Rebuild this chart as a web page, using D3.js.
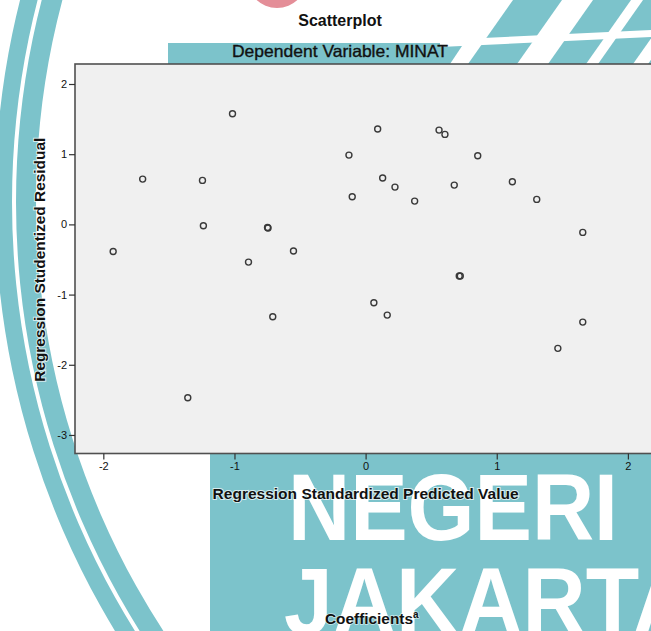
<!DOCTYPE html>
<html>
<head>
<meta charset="utf-8">
<script src="https://cdn.jsdelivr.net/npm/d3@7/dist/d3.min.js"></script>
<style>
  html, body { margin: 0; padding: 0; background: #ffffff; }
  svg { display: block; font-family: "Liberation Sans", Arial, sans-serif; }
</style>
</head>
<body>
<svg id="chart" width="651" height="631"></svg>
<script>
// ---------------- data ----------------
const predictedValue = [-1.015, -1.700, -1.244, -1.237, -1.925, -0.748, -0.744, -0.893, -0.550, -0.708,
                        -1.356, -0.127, -0.102, 0.092, 0.130, 0.224, 0.374, 0.560, 0.605, 0.676,
                        0.855, 1.119, 1.305, 1.656, 0.714, 0.722, 0.063, 0.165, 1.656, 1.466];
const studentizedResidual = [1.576, 0.645, 0.627, -0.020, -0.387, -0.045, -0.052, -0.537, -0.380, -1.316,
                             -2.470, 0.987, 0.393, 1.358, 0.660, 0.531, 0.332, 1.343, 1.282, 0.560,
                             0.977, 0.607, 0.356, -0.114, -0.736, -0.736, -1.117, -1.292, -1.392, -1.766];
const xTicks = [-2, -1, 0, 1, 2];
const yTicks = [2, 1, 0, -1, -2, -3];
const xExtent = [-2.216, 2.222];
const yExtent = [-3.264, 2.285];
const chartTitle = "Scatterplot";
const chartSubtitle = "Dependent Variable: MINAT";
const xTitle = "Regression Standardized Predicted Value";
const yTitle = "Regression Studentized Residual";
const footerTitle = "Coefficients";
const footerSup = "a";
const watermarkWords = ["NEGERI", "JAKARTA"];

// ---------------- layout ----------------
const svg = d3.select("#chart");
const W = 651, H = 631;
const plot = { left: 75, right: 657, top: 64, bottom: 453.5 };
const teal = "#7cc3cb";

svg.append("rect").attr("width", W).attr("height", H).attr("fill", "#ffffff");

// ---------------- watermark (background decoration) ----------------
const wm = svg.append("g").attr("class", "watermark");
const ringArc = d3.arc().startAngle(Math.PI * 0.98).endAngle(Math.PI * 2.02);
[[810, 827], [786, 806]].forEach(([ri, ro]) => {
  wm.append("path")
    .attr("transform", "translate(822,202)")
    .attr("d", ringArc({ innerRadius: ri, outerRadius: ro }))
    .attr("fill", teal);
});
// teal block at the bottom
wm.append("rect").attr("x", 210).attr("y", 440).attr("width", W - 210).attr("height", H - 440).attr("fill", teal);
// pink circle top
wm.append("circle").attr("cx", 277).attr("cy", -22).attr("r", 30).attr("fill", "#e48e98");
// teal bar behind subtitle
wm.append("path").attr("d", "M168,43 L464,43 L450,64 L168,64 Z").attr("fill", teal);
// top-right slanted bands
const clip = svg.append("defs").append("clipPath").attr("id", "trclip");
clip.append("rect").attr("x", 440).attr("y", 0).attr("width", 211).attr("height", 64);
const tr = wm.append("g").attr("clip-path", "url(#trclip)");
[[468, 517], [548, 586], [598, 633], [648, 690]].forEach(([a, b]) => {
  tr.append("path")
    .attr("d", `M${a},64 L${b},64 L${b + 45},0 L${a + 45},0 Z`)
    .attr("fill", teal);
});
tr.append("path").attr("d", "M440,40 L651,30 L651,37 L440,47 Z").attr("fill", "#ffffff");

// big white watermark words
wm.append("text").attr("x", 288).attr("y", 540)
  .attr("font-size", 95).attr("font-weight", "bold").attr("fill", "#ffffff")
  .attr("textLength", 330).attr("lengthAdjust", "spacingAndGlyphs")
  .text(watermarkWords[0]);
wm.append("text").attr("x", 284).attr("y", 634)
  .attr("font-size", 95).attr("font-weight", "bold").attr("fill", "#ffffff")
  .attr("textLength", 412).attr("lengthAdjust", "spacingAndGlyphs")
  .text(watermarkWords[1]);

// ---------------- titles ----------------
svg.append("text").attr("x", 340).attr("y", 25.5).attr("text-anchor", "middle")
  .attr("font-size", 16).attr("font-weight", "bold").attr("fill", "#111")
  .text(chartTitle);
svg.append("text").attr("x", 340).attr("y", 57).attr("text-anchor", "middle")
  .attr("font-size", 16.5).attr("fill", "#111").attr("stroke", "#111").attr("stroke-width", 0.35)
  .attr("textLength", 216).attr("lengthAdjust", "spacingAndGlyphs")
  .text(chartSubtitle);

// ---------------- scales ----------------
const x = d3.scaleLinear().domain(xExtent).range([plot.left, plot.right]);
const y = d3.scaleLinear().domain(yExtent).range([plot.bottom, plot.top]);

// plot area
svg.append("rect")
  .attr("x", x(xExtent[0])).attr("y", y(yExtent[1]))
  .attr("width", x(xExtent[1]) - x(xExtent[0]))
  .attr("height", y(yExtent[0]) - y(yExtent[1]))
  .attr("fill", "#f0f0f0").attr("stroke", "#505050").attr("stroke-width", 1.6);

// axes
const fmt = d => String(d);
const xAxis = svg.append("g").attr("transform", `translate(0,${plot.bottom})`)
  .call(d3.axisBottom(x).tickValues(xTicks).tickFormat(fmt).tickSize(6).tickPadding(3));
const yAxis = svg.append("g").attr("transform", `translate(${plot.left},0)`)
  .call(d3.axisLeft(y).tickValues(yTicks).tickFormat(fmt).tickSize(6).tickPadding(2));
[xAxis, yAxis].forEach(g => {
  g.select(".domain").remove();
  g.selectAll(".tick line").attr("stroke", "#333").attr("stroke-width", 1.2);
  g.selectAll(".tick text").attr("font-size", 11).attr("fill", "#111")
    .attr("font-family", "'Liberation Sans', Arial, sans-serif");
});

// points
svg.append("g").selectAll("circle")
  .data(predictedValue.map((v, i) => ({ x: v, y: studentizedResidual[i] })))
  .join("circle")
  .attr("cx", d => x(d.x)).attr("cy", d => y(d.y)).attr("r", 3)
  .attr("fill", "none").attr("stroke", "#3a3a3a").attr("stroke-width", 1.4);

// axis titles
svg.append("text").attr("x", x(0)).attr("y", 498.5).attr("text-anchor", "middle")
  .attr("font-size", 15.5).attr("font-weight", "bold").attr("fill", "#111")
  .attr("stroke", "#ffffff").attr("stroke-width", 2).attr("stroke-opacity", 0.7)
  .attr("paint-order", "stroke")
  .attr("textLength", 306).attr("lengthAdjust", "spacingAndGlyphs")
  .text(xTitle);
svg.append("text")
  .attr("transform", `translate(45,${(plot.top + plot.bottom) / 2 + 1}) rotate(-90)`)
  .attr("text-anchor", "middle")
  .attr("font-size", 15.5).attr("font-weight", "bold").attr("fill", "#111")
  .attr("stroke", "#ffffff").attr("stroke-width", 2).attr("stroke-opacity", 0.7)
  .attr("paint-order", "stroke")
  .attr("textLength", 244).attr("lengthAdjust", "spacingAndGlyphs")
  .text(yTitle);

// footer
const foot = svg.append("text").attr("x", 325).attr("y", 624)
  .attr("font-size", 14.5).attr("font-weight", "bold").attr("fill", "#111")
  .attr("stroke", "#ffffff").attr("stroke-width", 1.5).attr("stroke-opacity", 0.6)
  .attr("paint-order", "stroke");
foot.append("tspan").attr("textLength", 88).attr("lengthAdjust", "spacingAndGlyphs").text(footerTitle);
foot.append("tspan").attr("font-size", 10).attr("dy", -6).text(footerSup);
</script>
</body>
</html>
